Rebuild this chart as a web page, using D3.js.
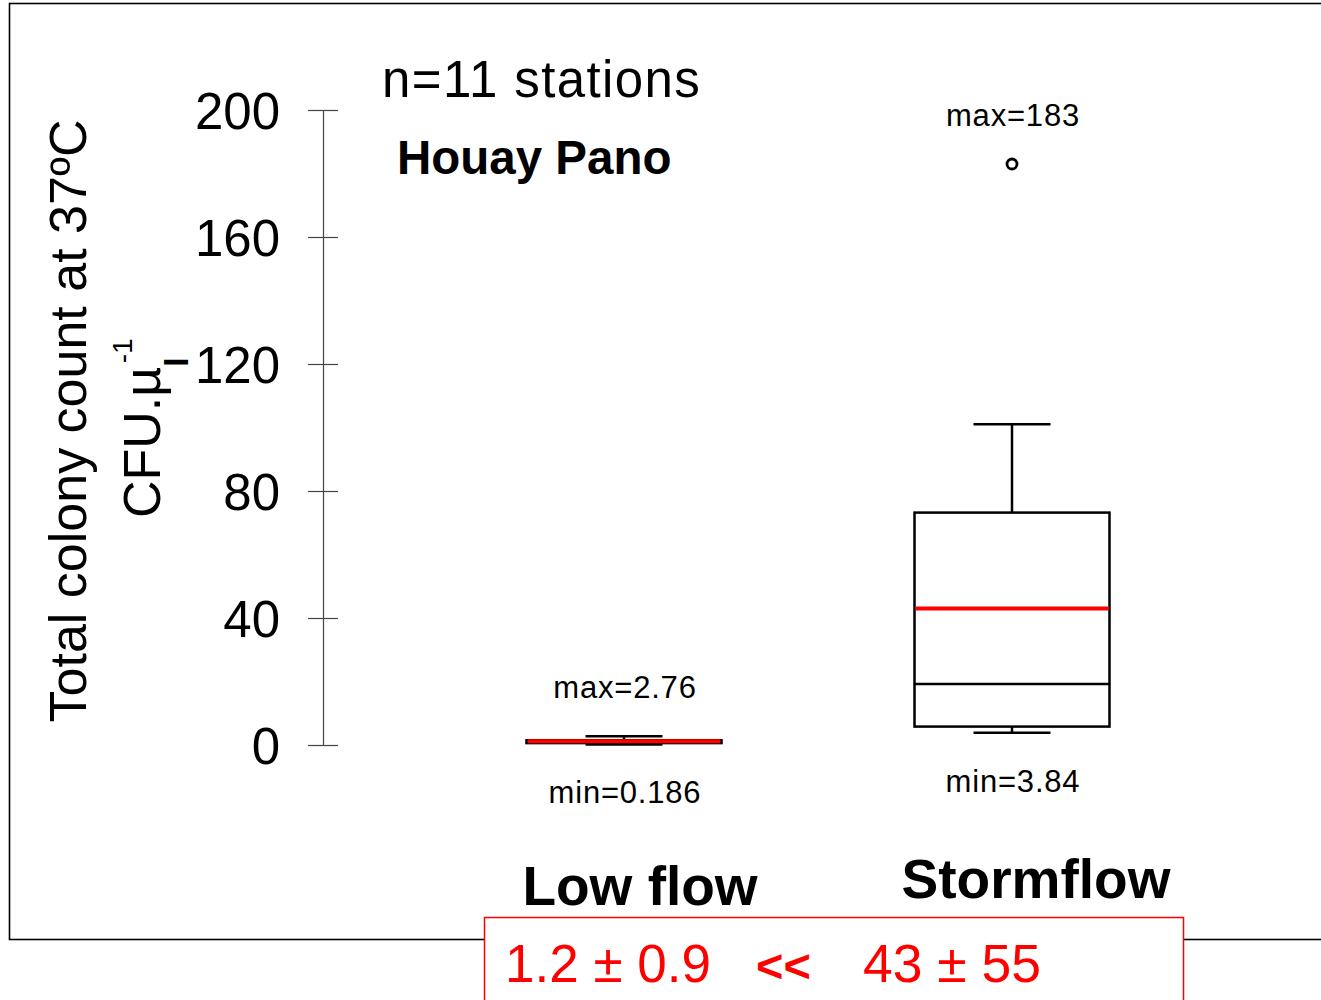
<!DOCTYPE html>
<html>
<head>
<meta charset="utf-8">
<script src="https://cdn.jsdelivr.net/npm/d3@7"></script>
<style>
  html, body { margin: 0; padding: 0; background: #fff; }
  svg { display: block; font-family: "Liberation Sans", Arial, Helvetica, sans-serif; }
</style>
</head>
<body>
<svg id="chart" width="1321" height="1000"></svg>
<script>
// Total colony count at 37 °C, Houay Pano, low flow vs stormflow
const categories   = ["Low flow", "Stormflow"];
const whiskerLow   = [0.186, 3.84];
const quartile1    = [0.6, 5.8];
const medians      = [0.9, 19.2];
const quartile3    = [1.5, 73.2];
const whiskerHigh  = [2.76, 101];
const means        = [1.2, 43];
const stdDevs      = [0.9, 55];
const outliers     = [[], [183]];
const minLabels    = ["min=0.186", "min=3.84"];
const maxValues    = [2.76, 183];
const maxLabels    = ["max=2.76", "max=183"];
const yTicks       = [0, 40, 80, 120, 160, 200];
const nStations    = 11;
const site         = "Houay Pano";

const svg = d3.select("#chart");

const y = d3.scaleLinear().domain([0, 200]).range([745, 110]);
const x = d3.scalePoint().domain(categories).range([624, 1012]);

const boxW = 195, capW = 77;

// outer frame
svg.append("rect")
  .attr("x", 9.5).attr("y", 3.5)
  .attr("width", 1330).attr("height", 936)
  .attr("fill", "none").attr("stroke", "#000").attr("stroke-width", 1.6);

// y axis with ticks crossing the line
const axis = d3.axisLeft(y).tickValues(yTicks).tickSize(15).tickSizeOuter(0).tickPadding(28);
const gAxis = svg.append("g").attr("transform", "translate(323,0)").call(axis);
gAxis.select(".domain").attr("stroke", "#444").attr("stroke-width", 1.2);
gAxis.selectAll(".tick line").attr("x1", -15).attr("x2", 15).attr("stroke", "#444").attr("stroke-width", 1.2);
gAxis.selectAll(".tick text")
  .attr("font-family", "Liberation Sans, Arial, sans-serif")
  .attr("font-size", 51).attr("fill", "#000").attr("dy", "0.36em");

// y axis title
svg.append("text")
  .attr("transform", "translate(86,421) rotate(-90)")
  .attr("text-anchor", "middle").attr("font-size", 52)
  .text("Total colony count at 37ºC");
const t2 = svg.append("text")
  .attr("transform", "translate(160,518) rotate(-90)")
  .attr("font-size", 52);
t2.append("tspan").text("CFU.µ");
t2.append("tspan").attr("font-size", 34).attr("font-weight", "bold").attr("dy", 28).text("l");
t2.append("tspan").attr("font-size", 28).attr("dx", -6).attr("dy", -56).text("-1");

// header texts
svg.append("text").attr("x", 382).attr("y", 97).attr("font-size", 51)
  .attr("letter-spacing", 1.4).text(`n=${nStations} stations`);
svg.append("text").attr("x", 397).attr("y", 174).attr("font-size", 47.5)
  .attr("font-weight", "bold").text(site);

// box plots
const boxes = svg.append("g").selectAll("g").data(categories).join("g");

boxes.each(function (c, i) {
  const g = d3.select(this);
  const cx = x(c);
  // whisker stems
  g.append("line").attr("x1", cx).attr("x2", cx)
    .attr("y1", y(quartile3[i])).attr("y2", y(whiskerHigh[i]))
    .attr("stroke", "#000").attr("stroke-width", 2.5);
  g.append("line").attr("x1", cx).attr("x2", cx)
    .attr("y1", y(quartile1[i])).attr("y2", y(whiskerLow[i]))
    .attr("stroke", "#000").attr("stroke-width", 2.5);
  // whisker caps
  [whiskerHigh[i], whiskerLow[i]].forEach(v => {
    g.append("line").attr("x1", cx - capW / 2).attr("x2", cx + capW / 2)
      .attr("y1", y(v)).attr("y2", y(v))
      .attr("stroke", "#000").attr("stroke-width", 2.5);
  });
  // box
  g.append("rect")
    .attr("x", cx - boxW / 2).attr("width", boxW)
    .attr("y", y(quartile3[i])).attr("height", y(quartile1[i]) - y(quartile3[i]))
    .attr("fill", "none").attr("stroke", "#000").attr("stroke-width", 2.5);
  // median
  g.append("line").attr("x1", cx - boxW / 2).attr("x2", cx + boxW / 2)
    .attr("y1", y(medians[i])).attr("y2", y(medians[i]))
    .attr("stroke", "#000").attr("stroke-width", 2.5);
  // mean
  g.append("line").attr("x1", cx - boxW / 2 + 1).attr("x2", cx + boxW / 2 - 1)
    .attr("y1", y(means[i])).attr("y2", y(means[i]))
    .attr("stroke", "#ff0000").attr("stroke-width", 4);
  // outliers
  outliers[i].forEach(v => {
    g.append("circle").attr("cx", cx).attr("cy", y(v)).attr("r", 5)
      .attr("fill", "#fff").attr("stroke", "#000").attr("stroke-width", 2.8);
  });
  // extreme labels
  g.append("text").attr("x", cx + 1).attr("y", y(maxValues[i]) - 38)
    .attr("text-anchor", "middle").attr("font-size", 31).attr("letter-spacing", 0.8)
    .text(maxLabels[i]);
  g.append("text").attr("x", cx + 1).attr("y", y(whiskerLow[i]) + 59)
    .attr("text-anchor", "middle").attr("font-size", 31).attr("letter-spacing", 0.8)
    .text(minLabels[i]);
});

// category labels
const catNudge = [{ dx: 16, y: 905 }, { dx: 24, y: 898 }];
svg.append("g").selectAll("text").data(categories).join("text")
  .attr("x", (c, i) => x(c) + catNudge[i].dx)
  .attr("y", (c, i) => catNudge[i].y)
  .attr("text-anchor", "middle").attr("font-size", 55).attr("font-weight", "bold")
  .text(c => c);

// mean ± sd comparison panel
svg.append("rect").attr("x", 484.5).attr("y", 917.5).attr("width", 699).attr("height", 100)
  .attr("fill", "#fff").attr("stroke", "#ff0000").attr("stroke-width", 1.5);
const fmt = i => `${means[i]} ± ${stdDevs[i]}`;
svg.append("text").attr("x", 505).attr("y", 982).attr("font-size", 53).attr("fill", "#ff0000")
  .text(fmt(0));
svg.append("text").attr("x", 756).attr("y", 982).attr("font-size", 47).attr("fill", "#ff0000")
  .attr("font-weight", "bold").text("<<");
svg.append("text").attr("x", 863).attr("y", 982).attr("font-size", 53.5).attr("fill", "#ff0000")
  .text(fmt(1));
</script>
</body>
</html>
